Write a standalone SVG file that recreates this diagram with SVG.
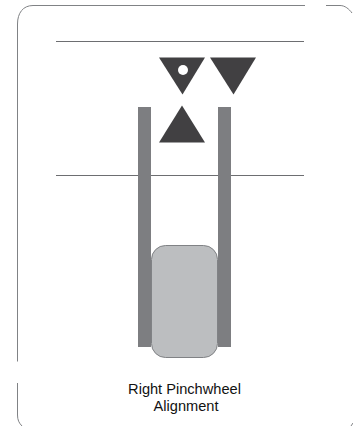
<svg xmlns="http://www.w3.org/2000/svg" width="353" height="426" viewBox="0 0 353 426">
<style>
.frame{fill:none;stroke:#808285;stroke-width:1}
.rule{fill:none;stroke:#6d6e71;stroke-width:1}
.rail{fill:#7d7e81}
.tri{fill:#414042}
.label{font-family:"Liberation Sans",Arial,sans-serif;font-size:14.6px;fill:#111;text-anchor:middle}
</style>
<rect width="353" height="426" fill="#fff"/>
<g id="frame">
<path class="frame" d="M17.500 361.500V24C17.500 13 23 5.500 33 5.500H305"/>
<path class="frame" d="M326 5.500H340C345 5.500 349 9 352 13"/>
<path class="frame" d="M17.500 383V415C17.500 420 19 423 22 426"/>
<path class="frame" d="M351 426L353 423"/>
</g>
<g id="connectors">
<path class="rule" d="M56 41.500H304"/>
<path class="rule" d="M56 175.500H304"/>
</g>
<g id="rail-left"><rect class="rail" x="138" y="107" width="13" height="240"/></g>
<g id="rail-right"><rect class="rail" x="218" y="107" width="13" height="240"/></g>
<g id="carriage"><rect x="151.500" y="245.500" width="66" height="112" rx="14" ry="14" fill="#bcbec0" stroke="#808285" stroke-width="1"/></g>
<g id="triangle-hole"><polygon class="tri" points="159,57.500 205,57.500 182.500,94.500"/><circle cx="183" cy="70" r="5" fill="#fff"/></g>
<g id="triangle-down"><polygon class="tri" points="210,57.500 256,57.500 233.500,94.500"/></g>
<g id="triangle-up"><polygon class="tri" points="159,142.500 205,142.500 182,105.500"/></g>
<g id="caption">
<text class="label" x="184.500" y="394">Right Pinchwheel</text>
<text class="label" x="186" y="410.500">Alignment</text>
</g>
</svg>
